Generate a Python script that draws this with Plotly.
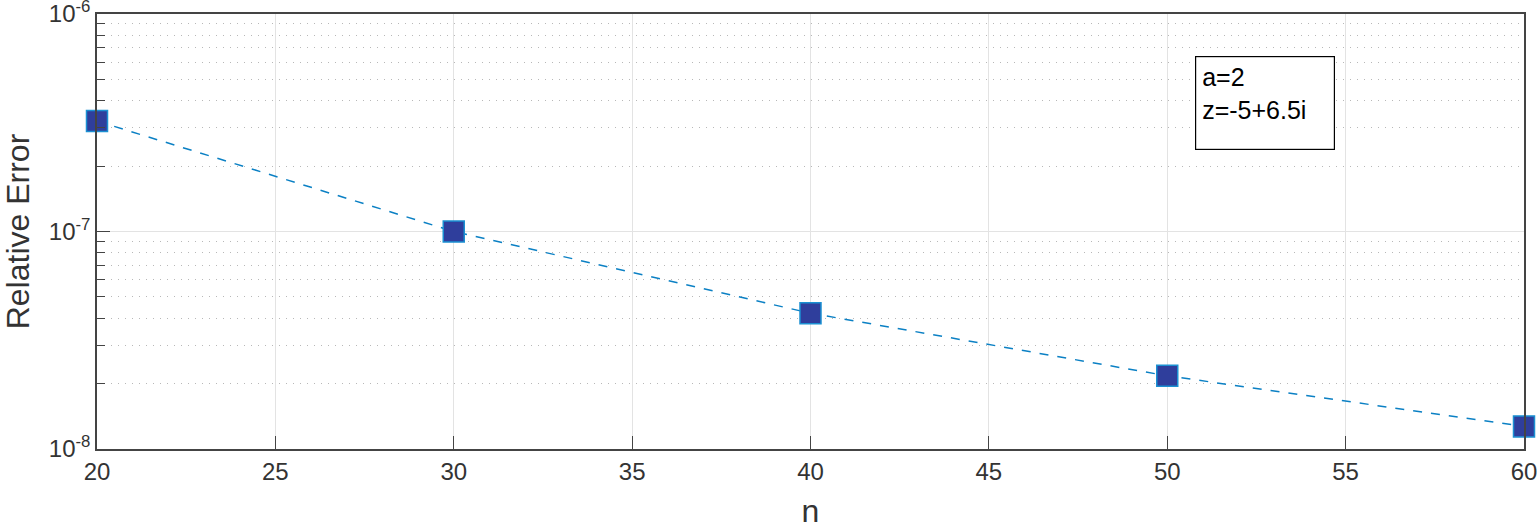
import plotly.graph_objects as go

n_vals = [20, 30, 40, 50, 60]
rel_err = [3.22e-7, 1.0e-7, 4.21e-8, 2.17e-8, 1.27e-8]
x_ticks = [20, 25, 30, 35, 40, 45, 50, 55, 60]
y_ticks = [1e-8, 1e-7, 1e-6]
y_ticktext = ["10<sup>-8</sup>", "10<sup>-7</sup>", "10<sup>-6</sup>"]
y_minor = [k * 1e-8 for k in range(2, 10)] + [k * 1e-7 for k in range(2, 10)]

FONT = "Liberation Sans, Arial, sans-serif"

fig = go.Figure()
fig.add_trace(go.Scatter(
    x=n_vals, y=rel_err, mode="lines+markers",
    line=dict(color="#0b80c4", width=1.5, dash="dash"),
    marker=dict(symbol="square", size=21, color="#2f3e9c",
                line=dict(color="#1b90d2", width=1.5)),
    cliponaxis=False, showlegend=False,
))

axis_common = dict(
    showline=True, linecolor="#444444", linewidth=1.5, mirror=True,
    ticks="inside", tickcolor="#444444", ticklen=13,
    tickfont=dict(family=FONT, size=24, color="#333333"),
    zeroline=False, automargin=False, ticklabeloverflow="allow",
)

fig.update_xaxes(
    range=[20, 60], tickvals=x_ticks,
    showgrid=True, gridcolor="#e3e3e3", gridwidth=1,
    title=dict(text="n", font=dict(family=FONT, size=32, color="#333333"), standoff=26),
    **axis_common,
)
fig.update_yaxes(
    type="log", range=[-8, -6], tickvals=y_ticks, ticktext=y_ticktext,
    showgrid=True, gridcolor="#e3e3e3", gridwidth=1,
    minor=dict(tickvals=y_minor, ticks="inside", ticklen=8, tickcolor="#444444",
               showgrid=True, gridcolor="#b8b8b8", griddash="1px,6px", gridwidth=1),
    title=dict(text="Relative Error", font=dict(family=FONT, size=32, color="#333333"), standoff=22),
    **axis_common,
)

fig.add_annotation(
    xref="paper", yref="paper", x=0.7694, y=0.9034, xanchor="left", yanchor="top",
    text="a=2<br>z=-5+6.5i", showarrow=False, align="left", valign="top",
    width=126, height=80, borderpad=6,
    bordercolor="#000000", borderwidth=1.2, bgcolor="white",
    font=dict(family=FONT, size=25, color="#000000"),
)

fig.update_layout(
    width=1537, height=529,
    margin=dict(l=97, r=13, t=14, b=80),
    plot_bgcolor="white", paper_bgcolor="white",
)

fig.write_html("out.html", config={"displayModeBar": False},
               post_script="document.body.style.margin='0';document.body.style.overflow='hidden';")
